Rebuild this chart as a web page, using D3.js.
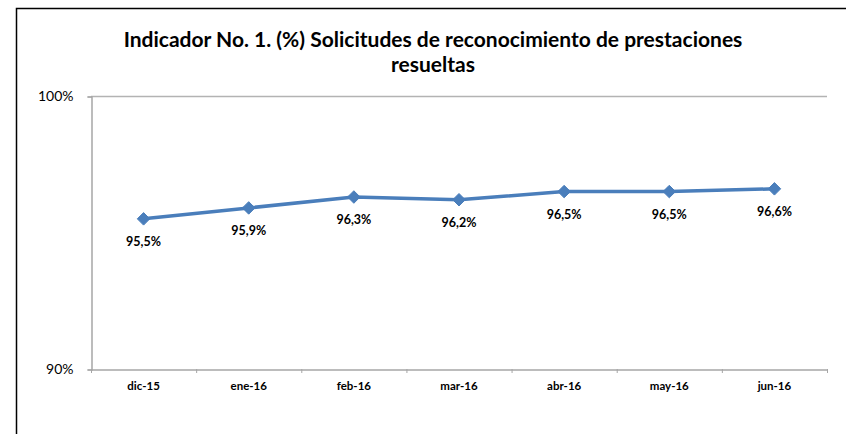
<!DOCTYPE html>
<html lang="es">
<head>
<meta charset="UTF-8">
<title>Indicador No. 1</title>
<script src="https://cdn.jsdelivr.net/npm/d3@7"></script>
<style>
  body { margin: 0; background: #fff; }
  text { font-family: Lato, "Open Sans", sans-serif; }
</style>
</head>
<body>
<script>
  var months = ['dic-15', 'ene-16', 'feb-16', 'mar-16', 'abr-16', 'may-16', 'jun-16'];
  var values = [95.5, 95.9, 96.3, 96.2, 96.5, 96.5, 96.6];
  var yTicks = [90, 100];

  var w = 846, h = 434;
  var mLeft = 91, mRight = 827, mTop = 96, mBottom = 369;

  var svg = d3.select('body').append('svg')
    .attr('width', w).attr('height', h);

  // outer chart frame (only top and left edges visible)
  svg.append('path')
    .attr('d', 'M16.5,' + h + 'V8.5H' + w)
    .attr('fill', 'none')
    .attr('stroke', '#000')
    .attr('stroke-width', 1.5);

  svg.append('text')
    .attr('x', 433).attr('y', 47)
    .attr('text-anchor', 'middle')
    .attr('font-size', '21px').attr('font-weight', 'bold')
    .text('Indicador No. 1. (%) Solicitudes de reconocimiento de prestaciones');
  svg.append('text')
    .attr('x', 433).attr('y', 72)
    .attr('text-anchor', 'middle')
    .attr('font-size', '21px').attr('font-weight', 'bold')
    .text('resueltas');

  var x = d3.scaleBand().domain(months).range([mLeft, mRight]);
  var y = d3.scaleLinear().domain([90, 100]).range([mBottom, mTop]);

  // gridline at 100%
  svg.append('line')
    .attr('x1', mLeft).attr('x2', mRight)
    .attr('y1', y(100) + 0.5).attr('y2', y(100) + 0.5)
    .attr('stroke', '#b3b3b3').attr('stroke-width', 1.5);

  var yAxis = svg.append('g')
    .attr('transform', 'translate(' + (mLeft + 0.5) + ',0.5)')
    .call(d3.axisLeft(y).tickValues(yTicks).tickSize(4).tickPadding(14)
      .tickFormat(d => d + '%'));
  yAxis.select('.domain').attr('stroke', '#a6a6a6').attr('stroke-width', 1.5);
  yAxis.selectAll('.tick line').attr('stroke', '#a6a6a6');
  yAxis.selectAll('text').attr('font-size', '14px').attr('fill', '#000')
    .attr('font-family', 'Lato, sans-serif');

  var xAxis = svg.append('g')
    .attr('transform', 'translate(0,' + (mBottom + 0.5) + ')')
    .call(d3.axisBottom(x).tickSize(0).tickPadding(12));
  xAxis.select('.domain').attr('stroke', '#a6a6a6').attr('stroke-width', 1.5);
  xAxis.selectAll('text').attr('font-size', '11.5px').attr('font-weight', 'bold')
    .attr('fill', '#000').attr('font-family', 'Lato, sans-serif');

  // category tick marks between bands
  svg.append('g').selectAll('line')
    .data(months.concat(['end']))
    .enter().append('line')
    .attr('x1', (d, i) => mLeft + i * x.bandwidth() + 0.5)
    .attr('x2', (d, i) => mLeft + i * x.bandwidth() + 0.5)
    .attr('y1', mBottom).attr('y2', mBottom + 4)
    .attr('stroke', '#a6a6a6');

  var cx = d => x(d) + x.bandwidth() / 2;

  svg.append('path')
    .datum(values)
    .attr('fill', 'none')
    .attr('stroke', '#4a7ebb')
    .attr('stroke-width', 3.5)
    .attr('stroke-linejoin', 'round')
    .attr('d', d3.line().x((d, i) => cx(months[i])).y(d => y(d)));

  svg.selectAll('.pt')
    .data(values)
    .enter().append('path')
    .attr('class', 'pt')
    .attr('transform', (d, i) => 'translate(' + cx(months[i]) + ',' + y(d) + ')')
    .attr('d', d3.symbol().type(d3.symbolDiamond2).size(100))
    .attr('fill', '#4a7ebb')
    .attr('stroke', '#4a7ebb')
    .attr('stroke-width', 1);

  svg.selectAll('.lbl')
    .data(values)
    .enter().append('text')
    .attr('class', 'lbl')
    .attr('x', (d, i) => cx(months[i]))
    .attr('y', d => y(d) + 27)
    .attr('text-anchor', 'middle')
    .attr('font-size', '12.5px').attr('font-weight', 'bold')
    .text(d => d.toFixed(1).replace('.', ',') + '%');
</script>
</body>
</html>
